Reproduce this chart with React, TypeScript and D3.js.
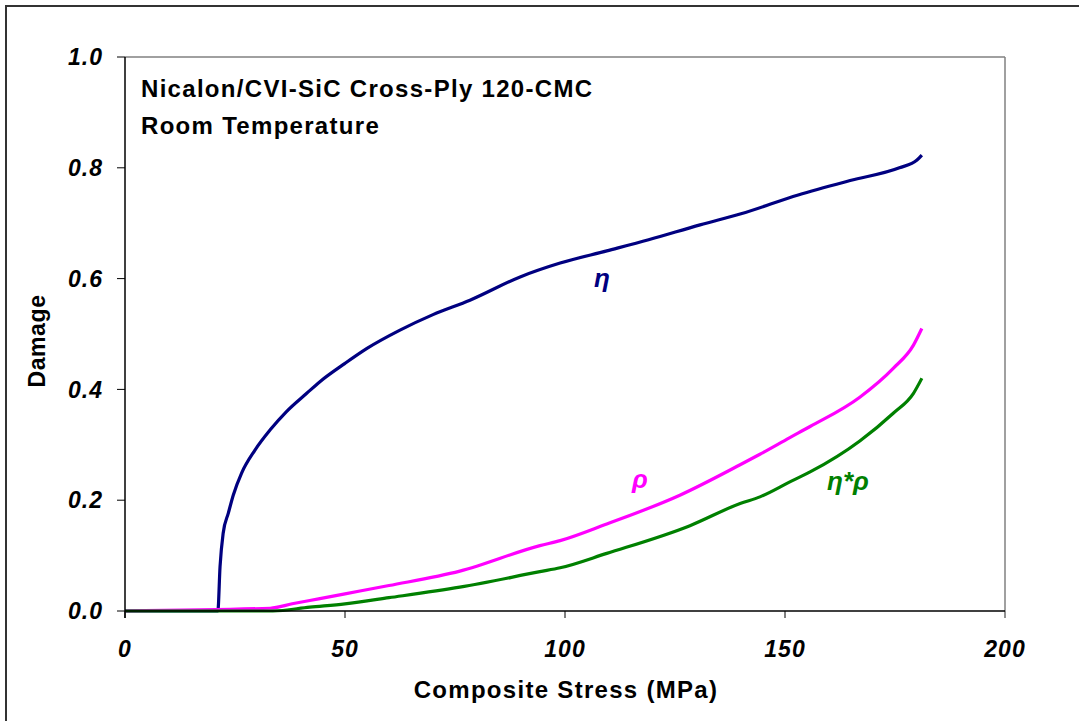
import React from 'react';
import { scaleLinear, line, curveMonotoneX } from 'd3';

// values
const etaStress = [0, 21.1, 21.6, 22.3, 23.5, 24.6, 26.5, 29.5, 33, 36.7, 41.3, 44.3, 50, 55, 62.5, 70, 78.4, 89.8, 98.9, 109.5, 119, 130.7, 140, 153, 164.8, 176, 180, 181.1];
const etaDamage = [0, 0, 0.08, 0.14, 0.177, 0.209, 0.249, 0.29, 0.327, 0.36, 0.393, 0.414, 0.447, 0.474, 0.507, 0.535, 0.561, 0.603, 0.628, 0.65, 0.67, 0.697, 0.717, 0.751, 0.777, 0.8, 0.814, 0.823];

const rhoStress = [0, 33, 38, 44, 50, 60, 76.1, 94.3, 98.9, 109.5, 126.1, 139.8, 144.3, 151.1, 155.7, 167, 174.6, 179.2, 181.1];
const rhoDamage = [0, 0.005, 0.013, 0.022, 0.031, 0.046, 0.072, 0.118, 0.127, 0.157, 0.209, 0.264, 0.283, 0.313, 0.333, 0.386, 0.438, 0.48, 0.51];

const prodStress = [0, 33.6, 42, 50, 60, 76.1, 94.3, 98.9, 109.5, 128.4, 139.8, 144.3, 151.1, 155.7, 167, 174.6, 179.2, 181.1];
const prodDamage = [0, 0, 0.007, 0.013, 0.024, 0.043, 0.071, 0.078, 0.104, 0.154, 0.194, 0.206, 0.233, 0.251, 0.307, 0.357, 0.393, 0.42];

const xTicks = [0, 50, 100, 150, 200];
const yTicks = [0, 0.2, 0.4, 0.6, 0.8, 1.0];

const titleLines = ['Nicalon/CVI-SiC Cross-Ply 120-CMC', 'Room Temperature'];

const series = [
  { name: 'η', xs: etaStress, ys: etaDamage, color: '#000080', lx: 108.4, ly: 0.585 },
  { name: 'ρ', xs: rhoStress, ys: rhoDamage, color: '#FF00FF', lx: 117, ly: 0.222 },
  { name: 'η*ρ', xs: prodStress, ys: prodDamage, color: '#008000', lx: 164.3, ly: 0.218 },
];

const W = 1079;
const H = 721;
const left = 125;
const right = 1005;
const top = 57;
const bottom = 611;
const font = '"Liberation Sans", Arial, sans-serif';

const App = () => {
  const x = scaleLinear().domain([0, 200]).range([left, right]);
  const y = scaleLinear().domain([0, 1]).range([bottom, top]);

  return (
    <svg
      width={W}
      height={H}
      style={{ position: 'absolute', left: 0, top: 0, display: 'block', background: '#fff' }}
      fontFamily={font}
    >
      <rect x={6} y={6} width={1200} height={900} fill="none" stroke="#333" strokeWidth={2} />

      {/* plot frame: top/right grey, axes black */}
      <line x1={left} x2={right} y1={top} y2={top} stroke="#808080" strokeWidth={1.5} />
      <line x1={right} x2={right} y1={top} y2={bottom + 7} stroke="#808080" strokeWidth={1.5} />

      {yTicks.map((t) => (
        <g key={'y' + t}>
          <line x1={left - 8} x2={left} y1={y(t)} y2={y(t)} stroke="#000" strokeWidth={1} />
          <text
            x={103}
            y={y(t)}
            dy="0.36em"
            textAnchor="end"
            fontSize={23}
            letterSpacing={1}
            fontWeight="bold"
            fontStyle="italic"
          >
            {t.toFixed(1)}
          </text>
        </g>
      ))}
      {xTicks.map((t) => (
        <g key={'x' + t}>
          <line x1={x(t)} x2={x(t)} y1={bottom} y2={bottom + 7} stroke={t === 200 ? '#808080' : '#000'} strokeWidth={1} />
          <text x={x(t)} y={657} textAnchor="middle" fontSize={23} letterSpacing={1} fontWeight="bold" fontStyle="italic">
            {t}
          </text>
        </g>
      ))}

      {series.map((s) => {
        const pts = s.xs.map((v, i) => [v, s.ys[i]] as [number, number]);
        const path = line<[number, number]>()
          .x((d) => x(d[0]))
          .y((d) => y(d[1]))
          .curve(curveMonotoneX)(pts);
        return (
          <g key={s.name}>
            <path d={path || ''} fill="none" stroke={s.color} strokeWidth={3.2} strokeLinejoin="round" />
            <text
              x={x(s.lx)}
              y={y(s.ly)}
              textAnchor="middle"
              fill={s.color}
              fontSize={26}
              fontWeight="bold"
              fontStyle="italic"
            >
              {s.name}
            </text>
          </g>
        );
      })}

      <line x1={left} x2={left} y1={top} y2={bottom + 7} stroke="#000" strokeWidth={1.5} />
      <line x1={left} x2={right} y1={bottom} y2={bottom} stroke="#000" strokeWidth={1.5} />

      {titleLines.map((t, i) => (
        <text key={t} x={141} y={97 + i * 37} fontSize={24} letterSpacing={1.3} fontWeight="bold">
          {t}
        </text>
      ))}

      <text
        transform={`translate(45, 341) rotate(-90)`}
        textAnchor="middle"
        fontSize={23}
        letterSpacing={0.6}
        fontWeight="bold"
      >
        Damage
      </text>
      <text x={566} y={698} textAnchor="middle" fontSize={24} letterSpacing={1.3} fontWeight="bold">
        Composite Stress (MPa)
      </text>
    </svg>
  );
};

export default App;
